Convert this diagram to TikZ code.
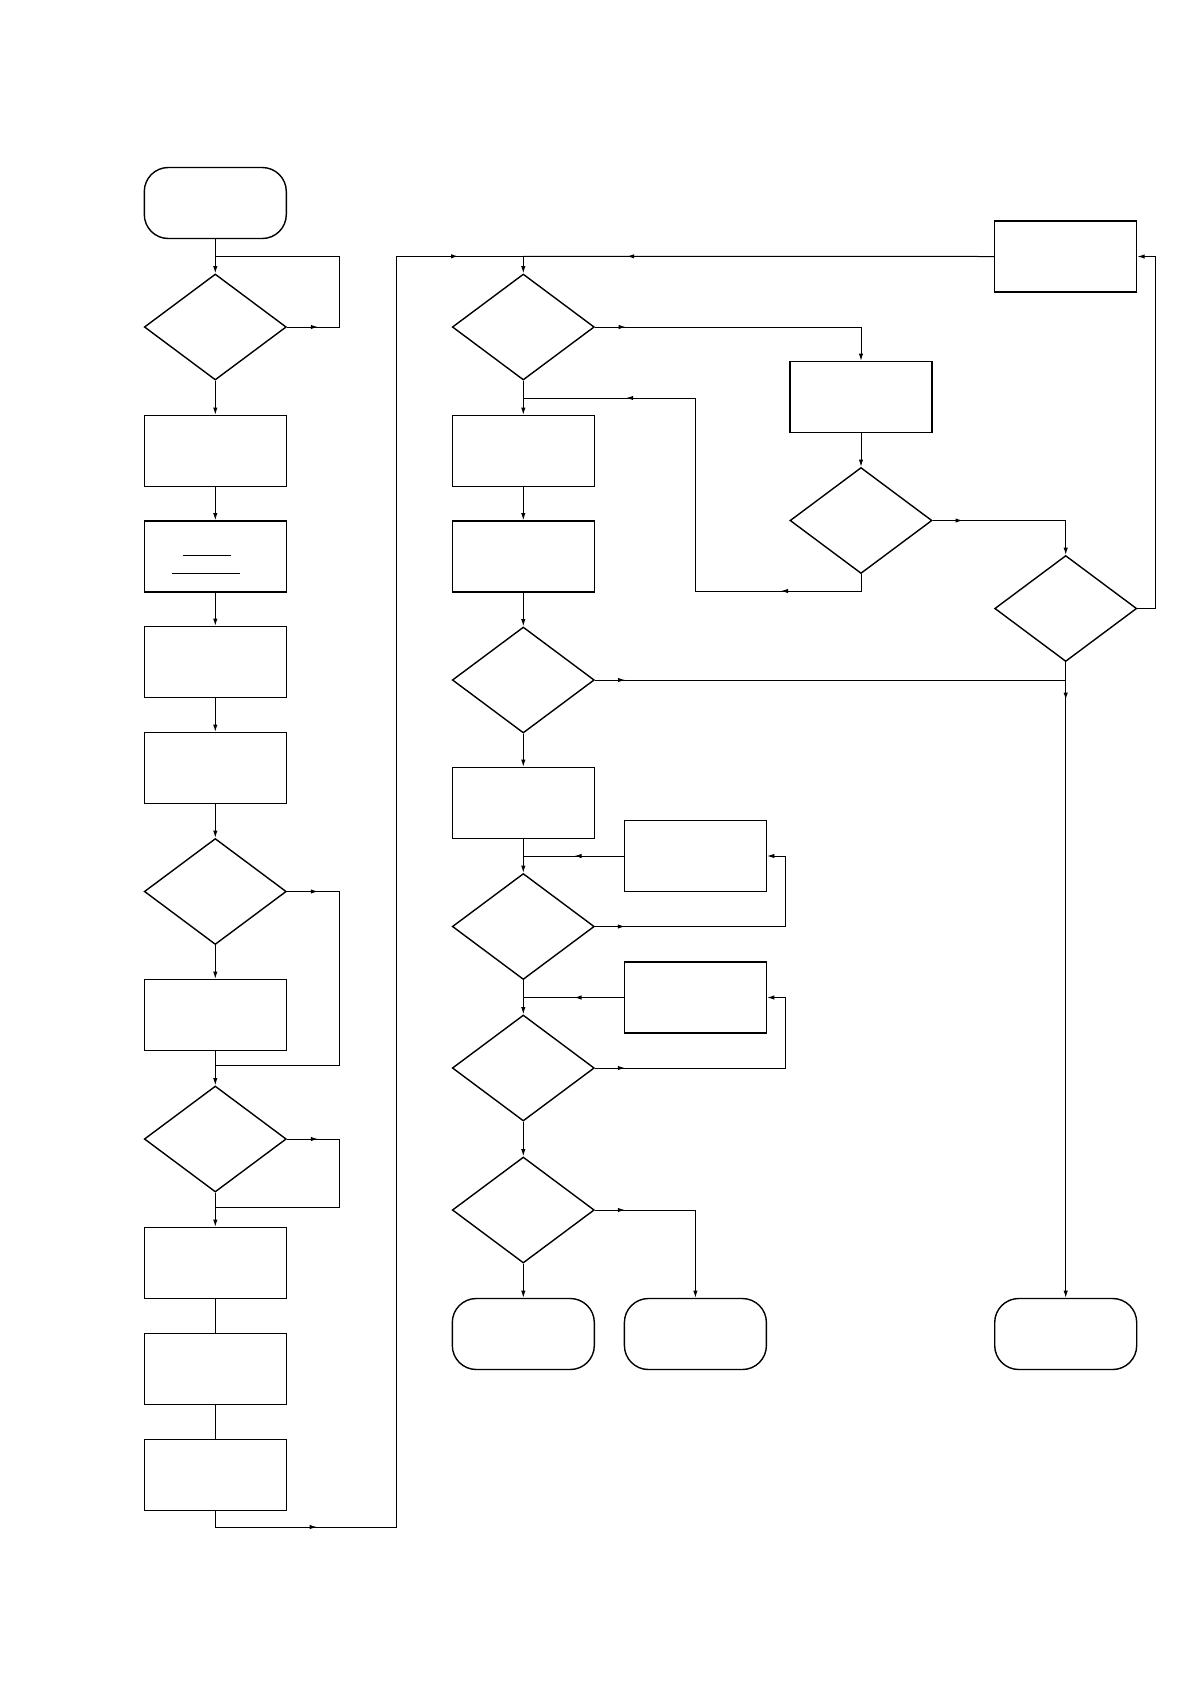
\documentclass[tikz,border=0pt]{standalone}
\usetikzlibrary{shapes.geometric,arrows.meta,decorations.markings,calc}
\begin{document}
\begin{tikzpicture}[x=0.5pt,y=-0.5pt,line width=0.5pt,
  >={Latex[length=3.6pt,width=2.2pt]},
  proc/.style={draw,rectangle,minimum width=71pt,minimum height=35.5pt,inner sep=0pt,line width=0.7pt},
  term/.style={draw,rectangle,rounded corners=12pt,minimum width=71pt,minimum height=35.5pt,inner sep=0pt,line width=0.7pt},
  dec/.style={draw,diamond,minimum width=71pt,minimum height=53pt,inner sep=0pt,line width=0.7pt},
  midarr/.style={postaction={decorate,decoration={markings,mark=at position #1 with {\arrow{>}}}}}]
\useasboundingbox (0,0) rectangle (1190,1682);
% left column
\node[term] (start) at (215.3,203) {};
\node[dec] (d1) at (215.3,327) {};
\node[proc] (b1) at (215.3,451) {};
\node[proc] (b2) at (215.3,556.5) {};
\node[proc] (b3) at (215.3,662) {};
\node[proc] (b4) at (215.3,768) {};
\node[dec] (d2) at (215.3,891.5) {};
\node[proc] (b5) at (215.3,1015) {};
\node[dec] (d3) at (215.3,1139) {};
\node[proc] (b6) at (215.3,1263) {};
\node[proc] (b7) at (215.3,1369) {};
\node[proc] (b8) at (215.3,1475) {};
% second column
\node[dec] (cd1) at (523.3,327) {};
\node[proc] (cb1) at (523.3,451) {};
\node[proc] (cb2) at (523.3,556.5) {};
\node[dec] (cd2) at (523.3,680) {};
\node[proc] (cb3) at (523.3,803) {};
\node[dec] (cd3) at (523.3,926.5) {};
\node[dec] (cd4) at (523.3,1068) {};
\node[dec] (cd5) at (523.3,1210) {};
\node[term] (t1) at (523.3,1334) {};
% side boxes
\node[proc] (ba) at (695.4,856) {};
\node[proc] (bb) at (695.4,997.5) {};
\node[term] (t2) at (695.4,1334) {};
% third column
\node[proc] (c3b) at (861,397) {};
\node[dec] (c3d) at (861,520.5) {};
% fourth column
\node[proc] (rb) at (1065.7,256.5) {};
\node[dec] (c4d) at (1065.7,608.5) {};
\node[term] (t3) at (1065.7,1334) {};
% coordinates
\coordinate (j1) at (215.3,256.3);
\coordinate (l1) at (339.3,256.3);
\coordinate (l2) at (339.3,1065.6);
\coordinate (j2) at (215.3,1065.6);
\coordinate (l3) at (339.3,1207);
\coordinate (j3) at (215.3,1207);
\coordinate (o1) at (396.3,1527);
\coordinate (j4) at (523.3,256.3);
\coordinate (k1) at (695.5,591);
\coordinate (j5) at (523.3,398);
\coordinate (k2) at (1155.7,256.5);
\coordinate (k3) at (785.5,856);
\coordinate (ja) at (523.3,856);
\coordinate (k4) at (785.5,997.5);
\coordinate (jb) at (523.3,997.5);
% inner lines of b2
\draw (183,555) -- (231,555);
\draw (172,573.3) -- (240,573.3);
% left column connectors
\draw[->] (start) -- (d1);
\draw[midarr=15.5pt] (d1.east) -| (l1) -- (j1);
\draw[->] (d1) -- (b1);
\draw[->] (b1) -- (b2);
\draw[->] (b2) -- (b3);
\draw[->] (b3) -- (b4);
\draw[->] (b4) -- (d2);
\draw[midarr=15.5pt] (d2.east) -| (l2) -- (j2);
\draw[->] (d2) -- (b5);
\draw[->] (b5) -- (d3);
\draw[midarr=15.5pt] (d3.east) -| (l3) -- (j3);
\draw[->] (d3) -- (b6);
\draw (b6) -- (b7);
\draw (b7) -- (b8);
\draw[->,midarr=58.7pt,midarr=764.7pt] (b8.south) |- (o1) |- (j4) -- (cd1.north);
\draw[midarr=183.5pt] (rb.west) -- (j4);
% second column connectors
\draw[->,midarr=15.4pt] (cd1.east) -| (c3b.north);
\draw[->] (cd1) -- (cb1);
\draw[->] (cb1) -- (cb2);
\draw[->] (cb2) -- (cd2);
\draw[->] (cd2) -- (cb3);
\draw[->] (cb3) -- (cd3);
\draw[->] (cd3) -- (cd4);
\draw[->] (cd4) -- (cd5);
\draw[->] (cd5) -- (t1);
\draw[->] (c3b) -- (c3d);
\draw[->,midarr=15pt] (c3d.east) -| (c4d.north);
\draw[midarr=48.5pt,midarr=222.4pt] (c3d.south) |- (k1) |- (j5);
\draw[->] (c4d.east) -| (k2) -- (rb.east);
\draw[->,midarr=18.8pt] (c4d) -- (t3);
\draw[midarr=15.1pt] (cd2.east) -- (cd2.east -| c4d.south);
\draw[->,midarr=15pt] (cd3.east) -| (k3) -- (ba.east);
\draw[midarr=24.7pt] (ba.west) -- (ja);
\draw[->,midarr=15pt] (cd4.east) -| (k4) -- (bb.east);
\draw[midarr=24.7pt] (bb.west) -- (jb);
\draw[->,midarr=15pt] (cd5.east) -| (t2.north);
\end{tikzpicture}
\end{document}
